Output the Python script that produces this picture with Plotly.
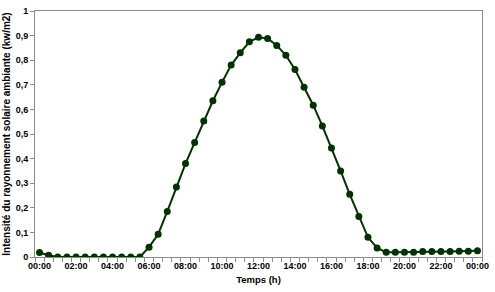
import plotly.graph_objects as go

# Half-hourly time (hours) and irradiance (kW/m2)
hours = [i * 0.5 for i in range(49)]
irradiance = [0.018, 0.007, 0, 0, 0, 0, 0, 0, 0, 0, 0, 0,
              0.040, 0.092, 0.185, 0.285, 0.380, 0.465, 0.553, 0.635,
              0.710, 0.780, 0.830, 0.875, 0.893, 0.888, 0.860, 0.820,
              0.762, 0.690, 0.617, 0.533, 0.443, 0.350, 0.255, 0.165,
              0.080, 0.037, 0.019, 0.019, 0.019, 0.019, 0.022, 0.022,
              0.022, 0.022, 0.023, 0.023, 0.025]
tick_hours = list(range(0, 25, 2))
tick_labels = ["00:00", "02:00", "04:00", "06:00", "08:00", "10:00", "12:00",
               "14:00", "16:00", "18:00", "20:00", "22:00", "00:00"]

GREEN = "#003300"
FONT = "Liberation Sans"

fig = go.Figure()
fig.add_trace(go.Scatter(
    x=hours, y=irradiance, mode="lines+markers",
    line=dict(color=GREEN, width=2),
    marker=dict(color=GREEN, size=7),
    showlegend=False,
))

fig.update_layout(
    width=495, height=292,
    margin=dict(l=35, r=7, t=6, b=35),
    plot_bgcolor="white", paper_bgcolor="white",
    separators=", ",
    font=dict(family=FONT, size=9, color="black", weight="bold"),
)
fig.update_xaxes(
    range=[-0.25, 24.25],
    tickmode="array", tickvals=tick_hours, ticktext=tick_labels,
    ticks="", showgrid=False, zeroline=False,
    showline=True, linecolor="#8c8c8c", linewidth=1, mirror=True,
    minor=dict(tick0=-0.25, dtick=0.5, ticks="outside", ticklen=4,
               tickcolor="#8c8c8c", showgrid=False),
    tickfont=dict(family=FONT, size=9, weight="bold"),
    title=dict(text="Temps (h)", font=dict(family=FONT, size=9.5, weight="bold"), standoff=6),
)
fig.update_yaxes(
    range=[0, 1], dtick=0.1, tick0=0,
    ticks="outside", ticklen=4, tickcolor="#8c8c8c",
    showgrid=False, zeroline=False,
    showline=True, linecolor="#8c8c8c", linewidth=1, mirror=True,
    tickfont=dict(family=FONT, size=9, weight="bold"),
    title=dict(text="Intensité du rayonnement solaire ambiante (kw/m2)",
               font=dict(family=FONT, size=10, weight="bold"), standoff=3),
)

fig.write_html("out.html")
